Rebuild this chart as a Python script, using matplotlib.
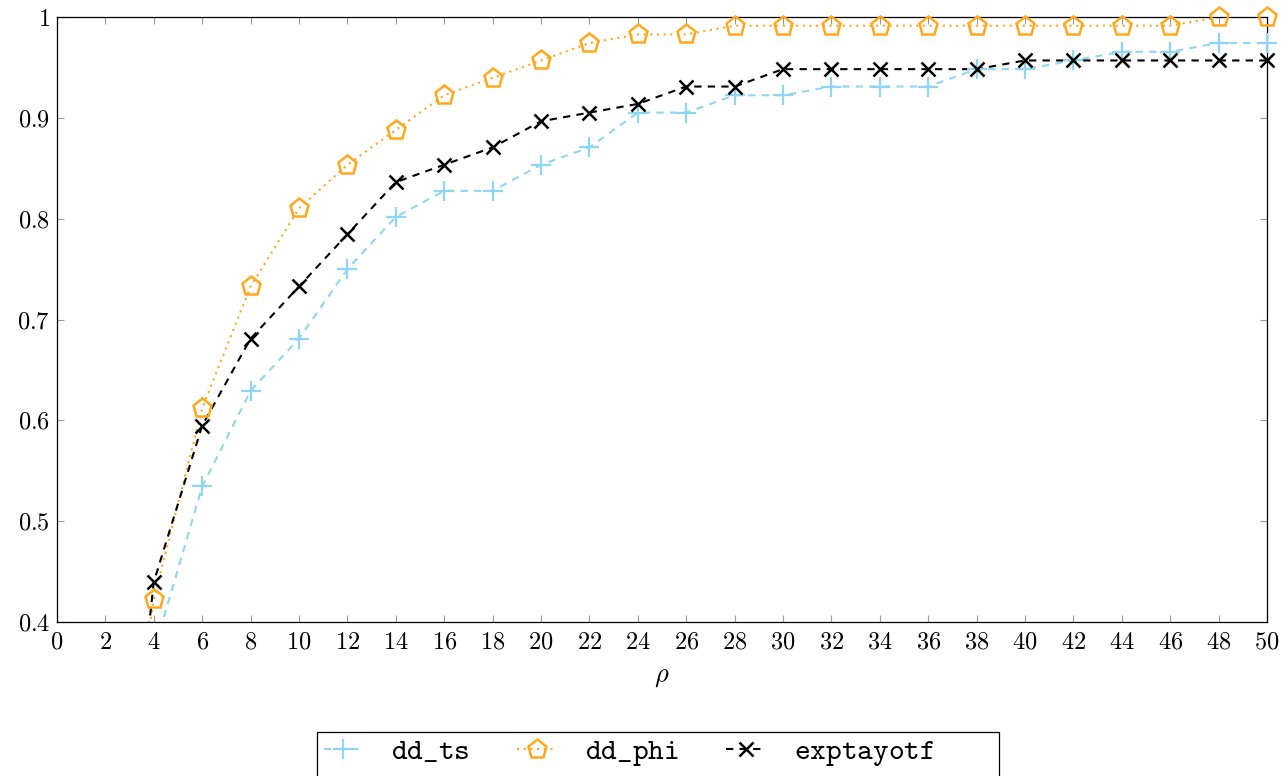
import matplotlib
matplotlib.use("Agg")
import matplotlib.pyplot as plt
import numpy as np
from matplotlib.patches import Rectangle
from matplotlib.ticker import FuncFormatter, MultipleLocator

plt.rcParams["mathtext.fontset"] = "cm"
plt.rcParams["font.family"] = "serif"
plt.rcParams["font.serif"] = ["cmr10", "DejaVu Serif"]
plt.rcParams["axes.formatter.use_mathtext"] = True

# counts out of 116
N = 116
rho = np.arange(2, 51, 2)
dd_ts = np.array([0, 43, 62, 73, 79, 87, 93, 96, 96, 99, 101, 105, 105, 107,
                  107, 108, 108, 108, 110, 110, 111, 112, 112, 113, 113]) / N
dd_phi = np.array([12, 49, 71, 85, 94, 99, 103, 107, 109, 111, 113, 114, 114, 115,
                   115, 115, 115, 115, 115, 115, 115, 115, 115, 116, 116]) / N
exptayotf = np.array([0, 51, 69, 79, 85, 91, 97, 99, 101, 104, 105, 106, 108, 108,
                      110, 110, 110, 110, 110, 111, 111, 111, 111, 111, 111]) / N

SERIES = [
    (r"$\mathtt{dd\_ts}$", dd_ts, "#8fd6f2", (0, (3.5, 3)), "+", 14, 1.6),
    (r"$\mathtt{dd\_phi}$", dd_phi, "#ffa81c", (0, (1, 2.2)), "p", 14, 1.8),
    (r"$\mathtt{exptayotf}$", exptayotf, "black", (0, (3.5, 3)), "x", 10, 1.8),
]

W, H = 1288, 776


def main():
    fig = plt.figure(figsize=(W / 100, H / 100), dpi=100)
    ax = fig.add_axes([57 / W, 1 - 622 / H, 1210 / W, 605 / H])
    handles = []
    for label, y, col, ls, mk, ms, mew in SERIES:
        ax.plot(rho, y, color=col, ls=ls, lw=1.5, zorder=2)
        keep = y >= 0.4
        ax.plot(rho[keep], y[keep], ls="none", marker=mk, ms=ms, mew=mew,
                mec=col, mfc="none", clip_on=False, zorder=3)
        handles.append(plt.Line2D([], [], color=col, ls=ls, lw=1.5, marker=mk,
                                  ms=ms, mew=mew, mec=col, mfc="none", label=label))

    ax.set_xlim(0, 50)
    ax.set_ylim(0.4, 1.0)
    ax.xaxis.set_major_locator(MultipleLocator(2))
    ax.yaxis.set_major_locator(MultipleLocator(0.1))
    ax.xaxis.set_major_formatter(FuncFormatter(lambda v, p: f"${v:g}$"))
    ax.yaxis.set_major_formatter(FuncFormatter(lambda v, p: f"${round(v, 1):g}$"))
    ax.tick_params(direction="in", length=5, width=0.8, color="#999999",
                   labelsize=17.5, top=True, right=True)
    ax.tick_params(axis="x", pad=7)
    ax.tick_params(axis="y", pad=5)
    for s in ax.spines.values():
        s.set_linewidth(0.9)
    ax.set_xlabel(r"$\rho$", fontsize=19, labelpad=8)

    # legend box drawn by hand: it runs past the bottom edge like the original
    fig.patches.append(Rectangle((317 / W, -0.2), 682 / W, 0.2 + 44 / H,
                                 transform=fig.transFigure, fill=False,
                                 lw=0.9, ec="black"))
    fig.legend(handles=handles, loc="upper left", bbox_to_anchor=(324 / W, 1 - 738 / H),
               ncol=3, fontsize=21.5, frameon=False, borderpad=0, borderaxespad=0,
               handlelength=1.3, columnspacing=1.6, handletextpad=0.95)
    fig.savefig("out.png", dpi=100)
    plt.close(fig)


if __name__ == "__main__":
    main()
